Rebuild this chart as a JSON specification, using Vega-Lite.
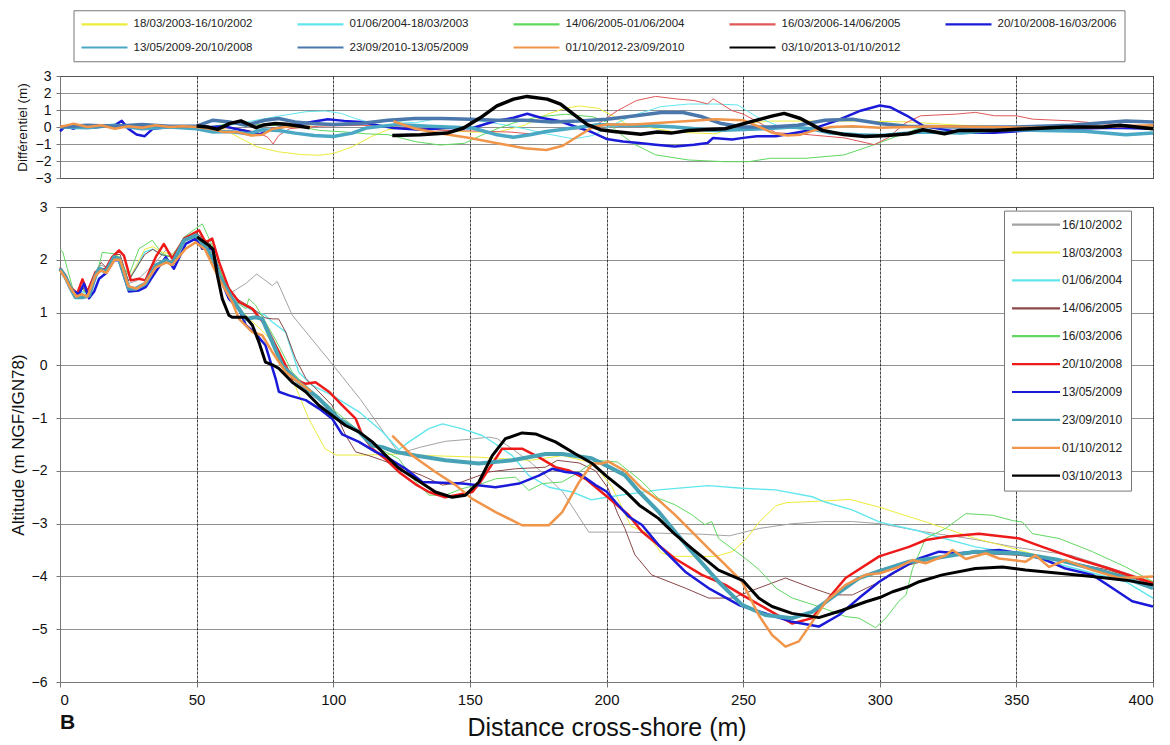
{
  "$schema": "https://vega.github.io/schema/vega-lite/v6.json",
  "background": "white",
  "padding": {"left": 8, "top": 9, "right": 6, "bottom": 0},
  "config": {
    "font": "Liberation Sans",
    "view": {"stroke": "#8c8c8c", "strokeWidth": 1},
    "axis": {"labelFont": "Liberation Sans", "titleFont": "Liberation Sans", "labelColor": "#111", "titleColor": "#111", "titleFontWeight": "normal", "domainColor": "#777", "tickColor": "#777", "gridColor": "#222", "gridOpacity": 1},
    "legend": {"labelFont": "Liberation Sans", "labelColor": "#222"},
    "title": {"font": "Liberation Sans"}
  },
  "datasets": {
    "diff": [
      {"s":"18/03/2003-16/10/2002","x":0,"y":0},{"s":"18/03/2003-16/10/2002","x":10,"y":0.05},{"s":"18/03/2003-16/10/2002","x":20,"y":-0.05},{"s":"18/03/2003-16/10/2002","x":30,"y":0.1},{"s":"18/03/2003-16/10/2002","x":40,"y":0},{"s":"18/03/2003-16/10/2002","x":50,"y":0.05},{"s":"18/03/2003-16/10/2002","x":58,"y":0},{"s":"18/03/2003-16/10/2002","x":62,"y":-0.3},{"s":"18/03/2003-16/10/2002","x":66,"y":-0.66},{"s":"18/03/2003-16/10/2002","x":72,"y":-1.16},{"s":"18/03/2003-16/10/2002","x":80,"y":-1.46},{"s":"18/03/2003-16/10/2002","x":88,"y":-1.62},{"s":"18/03/2003-16/10/2002","x":95,"y":-1.66},{"s":"18/03/2003-16/10/2002","x":100,"y":-1.56},{"s":"18/03/2003-16/10/2002","x":107,"y":-1.16},{"s":"18/03/2003-16/10/2002","x":114,"y":-0.56},{"s":"18/03/2003-16/10/2002","x":120,"y":-0.16},{"s":"18/03/2003-16/10/2002","x":125,"y":-0.05},{"s":"18/03/2003-16/10/2002","x":135,"y":-0.1},{"s":"18/03/2003-16/10/2002","x":150,"y":-0.3},{"s":"18/03/2003-16/10/2002","x":160,"y":-0.3},{"s":"18/03/2003-16/10/2002","x":170,"y":0.1},{"s":"18/03/2003-16/10/2002","x":178,"y":0.74},{"s":"18/03/2003-16/10/2002","x":185,"y":1.1},{"s":"18/03/2003-16/10/2002","x":190,"y":1.24},{"s":"18/03/2003-16/10/2002","x":197,"y":1.1},{"s":"18/03/2003-16/10/2002","x":203,"y":0.6},{"s":"18/03/2003-16/10/2002","x":208,"y":0.1},{"s":"18/03/2003-16/10/2002","x":215,"y":0},{"s":"18/03/2003-16/10/2002","x":225,"y":-0.3},{"s":"18/03/2003-16/10/2002","x":240,"y":-0.4},{"s":"18/03/2003-16/10/2002","x":250,"y":0.2},{"s":"18/03/2003-16/10/2002","x":260,"y":0.35},{"s":"18/03/2003-16/10/2002","x":270,"y":0.35},{"s":"18/03/2003-16/10/2002","x":290,"y":0.35},{"s":"18/03/2003-16/10/2002","x":310,"y":0.3},{"s":"18/03/2003-16/10/2002","x":330,"y":0.1},{"s":"18/03/2003-16/10/2002","x":350,"y":0},{"s":"18/03/2003-16/10/2002","x":370,"y":0.05},{"s":"18/03/2003-16/10/2002","x":400,"y":0},
      {"s":"01/06/2004-18/03/2003","x":0,"y":0},{"s":"01/06/2004-18/03/2003","x":20,"y":0.05},{"s":"01/06/2004-18/03/2003","x":40,"y":0},{"s":"01/06/2004-18/03/2003","x":55,"y":0},{"s":"01/06/2004-18/03/2003","x":62,"y":0.1},{"s":"01/06/2004-18/03/2003","x":70,"y":0.35},{"s":"01/06/2004-18/03/2003","x":80,"y":0.64},{"s":"01/06/2004-18/03/2003","x":90,"y":0.9},{"s":"01/06/2004-18/03/2003","x":97,"y":0.94},{"s":"01/06/2004-18/03/2003","x":103,"y":0.8},{"s":"01/06/2004-18/03/2003","x":108,"y":0.5},{"s":"01/06/2004-18/03/2003","x":114,"y":0.25},{"s":"01/06/2004-18/03/2003","x":120,"y":0.35},{"s":"01/06/2004-18/03/2003","x":130,"y":0.25},{"s":"01/06/2004-18/03/2003","x":140,"y":0.55},{"s":"01/06/2004-18/03/2003","x":150,"y":0.45},{"s":"01/06/2004-18/03/2003","x":160,"y":0.2},{"s":"01/06/2004-18/03/2003","x":170,"y":-0.1},{"s":"01/06/2004-18/03/2003","x":178,"y":-0.4},{"s":"01/06/2004-18/03/2003","x":188,"y":-0.7},{"s":"01/06/2004-18/03/2003","x":195,"y":-0.5},{"s":"01/06/2004-18/03/2003","x":202,"y":0.1},{"s":"01/06/2004-18/03/2003","x":210,"y":0.7},{"s":"01/06/2004-18/03/2003","x":220,"y":1.2},{"s":"01/06/2004-18/03/2003","x":230,"y":1.35},{"s":"01/06/2004-18/03/2003","x":240,"y":1.35},{"s":"01/06/2004-18/03/2003","x":248,"y":1.3},{"s":"01/06/2004-18/03/2003","x":255,"y":0.6},{"s":"01/06/2004-18/03/2003","x":263,"y":0.05},{"s":"01/06/2004-18/03/2003","x":275,"y":-0.1},{"s":"01/06/2004-18/03/2003","x":290,"y":0},{"s":"01/06/2004-18/03/2003","x":320,"y":-0.05},{"s":"01/06/2004-18/03/2003","x":350,"y":0},{"s":"01/06/2004-18/03/2003","x":380,"y":0},{"s":"01/06/2004-18/03/2003","x":400,"y":-0.1},
      {"s":"14/06/2005-01/06/2004","x":0,"y":0},{"s":"14/06/2005-01/06/2004","x":20,"y":0.05},{"s":"14/06/2005-01/06/2004","x":40,"y":-0.05},{"s":"14/06/2005-01/06/2004","x":55,"y":0},{"s":"14/06/2005-01/06/2004","x":65,"y":0.3},{"s":"14/06/2005-01/06/2004","x":75,"y":0.1},{"s":"14/06/2005-01/06/2004","x":85,"y":0.1},{"s":"14/06/2005-01/06/2004","x":95,"y":-0.2},{"s":"14/06/2005-01/06/2004","x":105,"y":-0.3},{"s":"14/06/2005-01/06/2004","x":112,"y":-0.4},{"s":"14/06/2005-01/06/2004","x":120,"y":-0.45},{"s":"14/06/2005-01/06/2004","x":130,"y":-0.86},{"s":"14/06/2005-01/06/2004","x":139,"y":-1.06},{"s":"14/06/2005-01/06/2004","x":148,"y":-0.96},{"s":"14/06/2005-01/06/2004","x":154,"y":-0.5},{"s":"14/06/2005-01/06/2004","x":160,"y":-0.1},{"s":"14/06/2005-01/06/2004","x":166,"y":0.24},{"s":"14/06/2005-01/06/2004","x":175,"y":0.6},{"s":"14/06/2005-01/06/2004","x":185,"y":0.75},{"s":"14/06/2005-01/06/2004","x":195,"y":0.6},{"s":"14/06/2005-01/06/2004","x":200,"y":0.3},{"s":"14/06/2005-01/06/2004","x":205,"y":-0.4},{"s":"14/06/2005-01/06/2004","x":210,"y":-1.0},{"s":"14/06/2005-01/06/2004","x":218,"y":-1.64},{"s":"14/06/2005-01/06/2004","x":230,"y":-1.94},{"s":"14/06/2005-01/06/2004","x":243,"y":-2.04},{"s":"14/06/2005-01/06/2004","x":252,"y":-2.04},{"s":"14/06/2005-01/06/2004","x":260,"y":-1.84},{"s":"14/06/2005-01/06/2004","x":273,"y":-1.84},{"s":"14/06/2005-01/06/2004","x":287,"y":-1.64},{"s":"14/06/2005-01/06/2004","x":298,"y":-1.04},{"s":"14/06/2005-01/06/2004","x":308,"y":-0.44},{"s":"14/06/2005-01/06/2004","x":315,"y":-0.04},{"s":"14/06/2005-01/06/2004","x":330,"y":0},{"s":"14/06/2005-01/06/2004","x":360,"y":0.05},{"s":"14/06/2005-01/06/2004","x":400,"y":0},
      {"s":"16/03/2006-14/06/2005","x":0,"y":0},{"s":"16/03/2006-14/06/2005","x":20,"y":0},{"s":"16/03/2006-14/06/2005","x":40,"y":0.05},{"s":"16/03/2006-14/06/2005","x":55,"y":0},{"s":"16/03/2006-14/06/2005","x":65,"y":-0.1},{"s":"16/03/2006-14/06/2005","x":72,"y":-0.3},{"s":"16/03/2006-14/06/2005","x":76,"y":-0.6},{"s":"16/03/2006-14/06/2005","x":78,"y":-1.0},{"s":"16/03/2006-14/06/2005","x":80,"y":-0.5},{"s":"16/03/2006-14/06/2005","x":84,"y":-0.1},{"s":"16/03/2006-14/06/2005","x":95,"y":0.05},{"s":"16/03/2006-14/06/2005","x":110,"y":0.1},{"s":"16/03/2006-14/06/2005","x":125,"y":0},{"s":"16/03/2006-14/06/2005","x":140,"y":-0.2},{"s":"16/03/2006-14/06/2005","x":155,"y":-0.25},{"s":"16/03/2006-14/06/2005","x":165,"y":-0.3},{"s":"16/03/2006-14/06/2005","x":172,"y":-0.4},{"s":"16/03/2006-14/06/2005","x":180,"y":-0.2},{"s":"16/03/2006-14/06/2005","x":190,"y":-0.1},{"s":"16/03/2006-14/06/2005","x":197,"y":0.2},{"s":"16/03/2006-14/06/2005","x":204,"y":0.96},{"s":"16/03/2006-14/06/2005","x":211,"y":1.56},{"s":"16/03/2006-14/06/2005","x":218,"y":1.8},{"s":"16/03/2006-14/06/2005","x":225,"y":1.66},{"s":"16/03/2006-14/06/2005","x":232,"y":1.56},{"s":"16/03/2006-14/06/2005","x":237,"y":1.36},{"s":"16/03/2006-14/06/2005","x":239,"y":1.66},{"s":"16/03/2006-14/06/2005","x":246,"y":0.96},{"s":"16/03/2006-14/06/2005","x":250,"y":0.76},{"s":"16/03/2006-14/06/2005","x":257,"y":0.16},{"s":"16/03/2006-14/06/2005","x":262,"y":-0.34},{"s":"16/03/2006-14/06/2005","x":273,"y":-0.44},{"s":"16/03/2006-14/06/2005","x":287,"y":-0.64},{"s":"16/03/2006-14/06/2005","x":298,"y":-1.04},{"s":"16/03/2006-14/06/2005","x":303,"y":-0.64},{"s":"16/03/2006-14/06/2005","x":309,"y":0.2},{"s":"16/03/2006-14/06/2005","x":315,"y":0.66},{"s":"16/03/2006-14/06/2005","x":328,"y":0.76},{"s":"16/03/2006-14/06/2005","x":335,"y":0.86},{"s":"16/03/2006-14/06/2005","x":342,"y":0.66},{"s":"16/03/2006-14/06/2005","x":350,"y":0.66},{"s":"16/03/2006-14/06/2005","x":356,"y":0.46},{"s":"16/03/2006-14/06/2005","x":370,"y":0.36},{"s":"16/03/2006-14/06/2005","x":384,"y":0.16},{"s":"16/03/2006-14/06/2005","x":400,"y":0.06},
      {"s":"20/10/2008-16/03/2006","x":0,"y":-0.25},{"s":"20/10/2008-16/03/2006","x":2,"y":0.05},{"s":"20/10/2008-16/03/2006","x":5,"y":-0.1},{"s":"20/10/2008-16/03/2006","x":8,"y":0.1},{"s":"20/10/2008-16/03/2006","x":12,"y":-0.05},{"s":"20/10/2008-16/03/2006","x":16,"y":0.05},{"s":"20/10/2008-16/03/2006","x":20,"y":0.1},{"s":"20/10/2008-16/03/2006","x":22.6,"y":0.36},{"s":"20/10/2008-16/03/2006","x":25,"y":-0.1},{"s":"20/10/2008-16/03/2006","x":28,"y":-0.44},{"s":"20/10/2008-16/03/2006","x":31,"y":-0.54},{"s":"20/10/2008-16/03/2006","x":34,"y":-0.1},{"s":"20/10/2008-16/03/2006","x":40,"y":0},{"s":"20/10/2008-16/03/2006","x":45,"y":0.05},{"s":"20/10/2008-16/03/2006","x":50,"y":0},{"s":"20/10/2008-16/03/2006","x":55,"y":0},{"s":"20/10/2008-16/03/2006","x":60,"y":0.05},{"s":"20/10/2008-16/03/2006","x":64,"y":-0.1},{"s":"20/10/2008-16/03/2006","x":68,"y":-0.24},{"s":"20/10/2008-16/03/2006","x":73,"y":-0.44},{"s":"20/10/2008-16/03/2006","x":78,"y":-0.1},{"s":"20/10/2008-16/03/2006","x":85,"y":0.1},{"s":"20/10/2008-16/03/2006","x":92,"y":0.3},{"s":"20/10/2008-16/03/2006","x":98,"y":0.46},{"s":"20/10/2008-16/03/2006","x":104,"y":0.36},{"s":"20/10/2008-16/03/2006","x":110,"y":0.3},{"s":"20/10/2008-16/03/2006","x":115,"y":0.14},{"s":"20/10/2008-16/03/2006","x":122,"y":-0.06},{"s":"20/10/2008-16/03/2006","x":132,"y":-0.16},{"s":"20/10/2008-16/03/2006","x":141,"y":-0.06},{"s":"20/10/2008-16/03/2006","x":151,"y":-0.06},{"s":"20/10/2008-16/03/2006","x":159,"y":0.34},{"s":"20/10/2008-16/03/2006","x":166,"y":0.54},{"s":"20/10/2008-16/03/2006","x":171,"y":0.78},{"s":"20/10/2008-16/03/2006","x":176,"y":0.54},{"s":"20/10/2008-16/03/2006","x":183,"y":0.34},{"s":"20/10/2008-16/03/2006","x":190,"y":-0.06},{"s":"20/10/2008-16/03/2006","x":194,"y":-0.26},{"s":"20/10/2008-16/03/2006","x":200,"y":-0.7},{"s":"20/10/2008-16/03/2006","x":206,"y":-0.85},{"s":"20/10/2008-16/03/2006","x":212,"y":-0.94},{"s":"20/10/2008-16/03/2006","x":218,"y":-1.04},{"s":"20/10/2008-16/03/2006","x":225,"y":-1.14},{"s":"20/10/2008-16/03/2006","x":232,"y":-1.04},{"s":"20/10/2008-16/03/2006","x":237,"y":-0.94},{"s":"20/10/2008-16/03/2006","x":239,"y":-0.64},{"s":"20/10/2008-16/03/2006","x":246,"y":-0.74},{"s":"20/10/2008-16/03/2006","x":250,"y":-0.64},{"s":"20/10/2008-16/03/2006","x":255,"y":-0.54},{"s":"20/10/2008-16/03/2006","x":262,"y":-0.54},{"s":"20/10/2008-16/03/2006","x":273,"y":-0.24},{"s":"20/10/2008-16/03/2006","x":284,"y":0.36},{"s":"20/10/2008-16/03/2006","x":293,"y":0.96},{"s":"20/10/2008-16/03/2006","x":300,"y":1.26},{"s":"20/10/2008-16/03/2006","x":304,"y":1.16},{"s":"20/10/2008-16/03/2006","x":310,"y":0.66},{"s":"20/10/2008-16/03/2006","x":316,"y":0.06},{"s":"20/10/2008-16/03/2006","x":323,"y":-0.14},{"s":"20/10/2008-16/03/2006","x":331,"y":-0.34},{"s":"20/10/2008-16/03/2006","x":342,"y":-0.34},{"s":"20/10/2008-16/03/2006","x":351,"y":-0.24},{"s":"20/10/2008-16/03/2006","x":360,"y":-0.14},{"s":"20/10/2008-16/03/2006","x":370,"y":-0.1},{"s":"20/10/2008-16/03/2006","x":385,"y":-0.05},{"s":"20/10/2008-16/03/2006","x":400,"y":-0.1},
      {"s":"13/05/2009-20/10/2008","x":0,"y":0},{"s":"13/05/2009-20/10/2008","x":10,"y":-0.05},{"s":"13/05/2009-20/10/2008","x":20,"y":0.1},{"s":"13/05/2009-20/10/2008","x":30,"y":-0.1},{"s":"13/05/2009-20/10/2008","x":40,"y":0},{"s":"13/05/2009-20/10/2008","x":50,"y":-0.1},{"s":"13/05/2009-20/10/2008","x":56,"y":-0.3},{"s":"13/05/2009-20/10/2008","x":62,"y":-0.26},{"s":"13/05/2009-20/10/2008","x":69,"y":-0.4},{"s":"13/05/2009-20/10/2008","x":74,"y":-0.16},{"s":"13/05/2009-20/10/2008","x":80,"y":-0.2},{"s":"13/05/2009-20/10/2008","x":86,"y":-0.36},{"s":"13/05/2009-20/10/2008","x":93,"y":-0.5},{"s":"13/05/2009-20/10/2008","x":100,"y":-0.56},{"s":"13/05/2009-20/10/2008","x":107,"y":-0.36},{"s":"13/05/2009-20/10/2008","x":112,"y":-0.06},{"s":"13/05/2009-20/10/2008","x":123,"y":0.14},{"s":"13/05/2009-20/10/2008","x":135,"y":0.04},{"s":"13/05/2009-20/10/2008","x":151,"y":-0.06},{"s":"13/05/2009-20/10/2008","x":160,"y":-0.46},{"s":"13/05/2009-20/10/2008","x":166,"y":-0.6},{"s":"13/05/2009-20/10/2008","x":172,"y":-0.46},{"s":"13/05/2009-20/10/2008","x":178,"y":-0.26},{"s":"13/05/2009-20/10/2008","x":188,"y":-0.06},{"s":"13/05/2009-20/10/2008","x":197,"y":0.14},{"s":"13/05/2009-20/10/2008","x":205,"y":0.1},{"s":"13/05/2009-20/10/2008","x":213,"y":0.1},{"s":"13/05/2009-20/10/2008","x":225,"y":0},{"s":"13/05/2009-20/10/2008","x":240,"y":-0.2},{"s":"13/05/2009-20/10/2008","x":258,"y":-0.1},{"s":"13/05/2009-20/10/2008","x":268,"y":0},{"s":"13/05/2009-20/10/2008","x":275,"y":-0.1},{"s":"13/05/2009-20/10/2008","x":282,"y":-0.35},{"s":"13/05/2009-20/10/2008","x":292,"y":-0.45},{"s":"13/05/2009-20/10/2008","x":300,"y":-0.5},{"s":"13/05/2009-20/10/2008","x":315,"y":-0.3},{"s":"13/05/2009-20/10/2008","x":330,"y":-0.35},{"s":"13/05/2009-20/10/2008","x":345,"y":-0.15},{"s":"13/05/2009-20/10/2008","x":360,"y":-0.2},{"s":"13/05/2009-20/10/2008","x":375,"y":-0.25},{"s":"13/05/2009-20/10/2008","x":390,"y":-0.45},{"s":"13/05/2009-20/10/2008","x":400,"y":-0.35},
      {"s":"23/09/2010-13/05/2009","x":0,"y":0},{"s":"23/09/2010-13/05/2009","x":10,"y":0.1},{"s":"23/09/2010-13/05/2009","x":20,"y":0.05},{"s":"23/09/2010-13/05/2009","x":30,"y":0.15},{"s":"23/09/2010-13/05/2009","x":40,"y":0.05},{"s":"23/09/2010-13/05/2009","x":50,"y":0.05},{"s":"23/09/2010-13/05/2009","x":56,"y":0.4},{"s":"23/09/2010-13/05/2009","x":62,"y":0.3},{"s":"23/09/2010-13/05/2009","x":68,"y":0.1},{"s":"23/09/2010-13/05/2009","x":75,"y":0.4},{"s":"23/09/2010-13/05/2009","x":80,"y":0.5},{"s":"23/09/2010-13/05/2009","x":86,"y":0.3},{"s":"23/09/2010-13/05/2009","x":92,"y":0.2},{"s":"23/09/2010-13/05/2009","x":100,"y":0.15},{"s":"23/09/2010-13/05/2009","x":110,"y":0.2},{"s":"23/09/2010-13/05/2009","x":120,"y":0.4},{"s":"23/09/2010-13/05/2009","x":130,"y":0.5},{"s":"23/09/2010-13/05/2009","x":140,"y":0.5},{"s":"23/09/2010-13/05/2009","x":150,"y":0.45},{"s":"23/09/2010-13/05/2009","x":160,"y":0.4},{"s":"23/09/2010-13/05/2009","x":170,"y":0.4},{"s":"23/09/2010-13/05/2009","x":180,"y":0.3},{"s":"23/09/2010-13/05/2009","x":190,"y":0.35},{"s":"23/09/2010-13/05/2009","x":200,"y":0.45},{"s":"23/09/2010-13/05/2009","x":210,"y":0.65},{"s":"23/09/2010-13/05/2009","x":220,"y":0.85},{"s":"23/09/2010-13/05/2009","x":228,"y":0.85},{"s":"23/09/2010-13/05/2009","x":235,"y":0.6},{"s":"23/09/2010-13/05/2009","x":242,"y":0.2},{"s":"23/09/2010-13/05/2009","x":250,"y":0},{"s":"23/09/2010-13/05/2009","x":260,"y":0},{"s":"23/09/2010-13/05/2009","x":270,"y":0.1},{"s":"23/09/2010-13/05/2009","x":280,"y":0.4},{"s":"23/09/2010-13/05/2009","x":290,"y":0.45},{"s":"23/09/2010-13/05/2009","x":300,"y":0.2},{"s":"23/09/2010-13/05/2009","x":310,"y":0.05},{"s":"23/09/2010-13/05/2009","x":330,"y":0},{"s":"23/09/2010-13/05/2009","x":350,"y":0},{"s":"23/09/2010-13/05/2009","x":370,"y":0.1},{"s":"23/09/2010-13/05/2009","x":390,"y":0.35},{"s":"23/09/2010-13/05/2009","x":400,"y":0.3},
      {"s":"01/10/2012-23/09/2010","g":1,"x":0,"y":0},{"s":"01/10/2012-23/09/2010","g":1,"x":5,"y":0.2},{"s":"01/10/2012-23/09/2010","g":1,"x":10,"y":0},{"s":"01/10/2012-23/09/2010","g":1,"x":15,"y":0.1},{"s":"01/10/2012-23/09/2010","g":1,"x":20,"y":-0.1},{"s":"01/10/2012-23/09/2010","g":1,"x":25,"y":0.05},{"s":"01/10/2012-23/09/2010","g":1,"x":30,"y":-0.05},{"s":"01/10/2012-23/09/2010","g":1,"x":35,"y":0.1},{"s":"01/10/2012-23/09/2010","g":1,"x":40,"y":0},{"s":"01/10/2012-23/09/2010","g":1,"x":45,"y":0.05},{"s":"01/10/2012-23/09/2010","g":1,"x":50,"y":0},{"s":"01/10/2012-23/09/2010","g":1,"x":55,"y":-0.1},{"s":"01/10/2012-23/09/2010","g":1,"x":60,"y":-0.3},{"s":"01/10/2012-23/09/2010","g":1,"x":65,"y":-0.3},{"s":"01/10/2012-23/09/2010","g":1,"x":70,"y":-0.5},{"s":"01/10/2012-23/09/2010","g":1,"x":74,"y":-0.45},{"s":"01/10/2012-23/09/2010","g":1,"x":78,"y":-0.1},{"s":"01/10/2012-23/09/2010","g":1,"x":84,"y":0.05},{"s":"01/10/2012-23/09/2010","g":1,"x":92,"y":0},
      {"s":"01/10/2012-23/09/2010","g":2,"x":122,"y":0.34},{"s":"01/10/2012-23/09/2010","g":2,"x":130,"y":-0.1},{"s":"01/10/2012-23/09/2010","g":2,"x":140,"y":-0.4},{"s":"01/10/2012-23/09/2010","g":2,"x":150,"y":-0.65},{"s":"01/10/2012-23/09/2010","g":2,"x":160,"y":-0.95},{"s":"01/10/2012-23/09/2010","g":2,"x":170,"y":-1.25},{"s":"01/10/2012-23/09/2010","g":2,"x":178,"y":-1.35},{"s":"01/10/2012-23/09/2010","g":2,"x":184,"y":-1.1},{"s":"01/10/2012-23/09/2010","g":2,"x":190,"y":-0.5},{"s":"01/10/2012-23/09/2010","g":2,"x":195,"y":0},{"s":"01/10/2012-23/09/2010","g":2,"x":200,"y":0.15},{"s":"01/10/2012-23/09/2010","g":2,"x":210,"y":0.15},{"s":"01/10/2012-23/09/2010","g":2,"x":220,"y":0.25},{"s":"01/10/2012-23/09/2010","g":2,"x":230,"y":0.35},{"s":"01/10/2012-23/09/2010","g":2,"x":240,"y":0.45},{"s":"01/10/2012-23/09/2010","g":2,"x":250,"y":0.4},{"s":"01/10/2012-23/09/2010","g":2,"x":256,"y":0},{"s":"01/10/2012-23/09/2010","g":2,"x":261,"y":-0.36},{"s":"01/10/2012-23/09/2010","g":2,"x":266,"y":-0.5},{"s":"01/10/2012-23/09/2010","g":2,"x":271,"y":-0.45},{"s":"01/10/2012-23/09/2010","g":2,"x":276,"y":-0.2},{"s":"01/10/2012-23/09/2010","g":2,"x":282,"y":0},{"s":"01/10/2012-23/09/2010","g":2,"x":290,"y":0.05},{"s":"01/10/2012-23/09/2010","g":2,"x":300,"y":-0.05},{"s":"01/10/2012-23/09/2010","g":2,"x":320,"y":0.05},{"s":"01/10/2012-23/09/2010","g":2,"x":340,"y":0},{"s":"01/10/2012-23/09/2010","g":2,"x":360,"y":-0.05},{"s":"01/10/2012-23/09/2010","g":2,"x":380,"y":0},{"s":"01/10/2012-23/09/2010","g":2,"x":400,"y":0.1},
      {"s":"03/10/2013-01/10/2012","g":1,"x":50,"y":0.06},{"s":"03/10/2013-01/10/2012","g":1,"x":54,"y":0},{"s":"03/10/2013-01/10/2012","g":1,"x":57.7,"y":-0.14},{"s":"03/10/2013-01/10/2012","g":1,"x":62,"y":0.2},{"s":"03/10/2013-01/10/2012","g":1,"x":66.2,"y":0.36},{"s":"03/10/2013-01/10/2012","g":1,"x":69,"y":0.16},{"s":"03/10/2013-01/10/2012","g":1,"x":71.8,"y":-0.04},{"s":"03/10/2013-01/10/2012","g":1,"x":74.6,"y":0.12},{"s":"03/10/2013-01/10/2012","g":1,"x":78.8,"y":0.2},{"s":"03/10/2013-01/10/2012","g":1,"x":83,"y":0.16},{"s":"03/10/2013-01/10/2012","g":1,"x":87.2,"y":0.06},{"s":"03/10/2013-01/10/2012","g":1,"x":91.4,"y":-0.04},
      {"s":"03/10/2013-01/10/2012","g":2,"x":121.6,"y":-0.5},{"s":"03/10/2013-01/10/2012","g":2,"x":131.8,"y":-0.46},{"s":"03/10/2013-01/10/2012","g":2,"x":141.6,"y":-0.36},{"s":"03/10/2013-01/10/2012","g":2,"x":147.7,"y":-0.06},{"s":"03/10/2013-01/10/2012","g":2,"x":153.8,"y":0.54},{"s":"03/10/2013-01/10/2012","g":2,"x":159.9,"y":1.24},{"s":"03/10/2013-01/10/2012","g":2,"x":166,"y":1.64},{"s":"03/10/2013-01/10/2012","g":2,"x":170.9,"y":1.8},{"s":"03/10/2013-01/10/2012","g":2,"x":178.3,"y":1.64},{"s":"03/10/2013-01/10/2012","g":2,"x":183.2,"y":1.34},{"s":"03/10/2013-01/10/2012","g":2,"x":188,"y":0.74},{"s":"03/10/2013-01/10/2012","g":2,"x":193,"y":0.14},{"s":"03/10/2013-01/10/2012","g":2,"x":197.8,"y":-0.16},{"s":"03/10/2013-01/10/2012","g":2,"x":202.7,"y":-0.26},{"s":"03/10/2013-01/10/2012","g":2,"x":212.5,"y":-0.42},{"s":"03/10/2013-01/10/2012","g":2,"x":218.6,"y":-0.3},{"s":"03/10/2013-01/10/2012","g":2,"x":223.7,"y":-0.36},{"s":"03/10/2013-01/10/2012","g":2,"x":230,"y":-0.2},{"s":"03/10/2013-01/10/2012","g":2,"x":243.4,"y":-0.1},{"s":"03/10/2013-01/10/2012","g":2,"x":252.6,"y":0.3},{"s":"03/10/2013-01/10/2012","g":2,"x":260.5,"y":0.64},{"s":"03/10/2013-01/10/2012","g":2,"x":265,"y":0.8},{"s":"03/10/2013-01/10/2012","g":2,"x":271,"y":0.5},{"s":"03/10/2013-01/10/2012","g":2,"x":279,"y":-0.2},{"s":"03/10/2013-01/10/2012","g":2,"x":286.8,"y":-0.44},{"s":"03/10/2013-01/10/2012","g":2,"x":294.7,"y":-0.56},{"s":"03/10/2013-01/10/2012","g":2,"x":302.6,"y":-0.5},{"s":"03/10/2013-01/10/2012","g":2,"x":310.5,"y":-0.4},{"s":"03/10/2013-01/10/2012","g":2,"x":315.8,"y":-0.16},{"s":"03/10/2013-01/10/2012","g":2,"x":323.7,"y":-0.4},{"s":"03/10/2013-01/10/2012","g":2,"x":329,"y":-0.2},{"s":"03/10/2013-01/10/2012","g":2,"x":342,"y":-0.2},{"s":"03/10/2013-01/10/2012","g":2,"x":355,"y":-0.1},{"s":"03/10/2013-01/10/2012","g":2,"x":368,"y":0},{"s":"03/10/2013-01/10/2012","g":2,"x":381.6,"y":0},{"s":"03/10/2013-01/10/2012","g":2,"x":388,"y":0.1},{"s":"03/10/2013-01/10/2012","g":2,"x":400,"y":-0.1}
    ],
    "prof": [
      {"s":"16/10/2002","x":0,"y":1.85},{"s":"16/10/2002","x":2,"y":1.7},{"s":"16/10/2002","x":4,"y":1.45},{"s":"16/10/2002","x":6,"y":1.35},{"s":"16/10/2002","x":8,"y":1.45},{"s":"16/10/2002","x":10,"y":1.35},{"s":"16/10/2002","x":13,"y":1.75},{"s":"16/10/2002","x":15,"y":1.9},{"s":"16/10/2002","x":17,"y":1.85},{"s":"16/10/2002","x":20,"y":2.05},{"s":"16/10/2002","x":22,"y":2.05},{"s":"16/10/2002","x":25,"y":1.55},{"s":"16/10/2002","x":28,"y":1.6},{"s":"16/10/2002","x":31,"y":1.75},{"s":"16/10/2002","x":35,"y":1.95},{"s":"16/10/2002","x":39,"y":2.2},{"s":"16/10/2002","x":41,"y":2.1},{"s":"16/10/2002","x":45,"y":2.35},{"s":"16/10/2002","x":50,"y":2.45},{"s":"16/10/2002","x":55,"y":2.2},{"s":"16/10/2002","x":60,"y":1.6},{"s":"16/10/2002","x":63,"y":1.39},{"s":"16/10/2002","x":68,"y":1.55},{"s":"16/10/2002","x":72,"y":1.73},{"s":"16/10/2002","x":77.7,"y":1.51},{"s":"16/10/2002","x":79.5,"y":1.59},{"s":"16/10/2002","x":85,"y":0.95},{"s":"16/10/2002","x":100,"y":0},{"s":"16/10/2002","x":110,"y":-0.65},{"s":"16/10/2002","x":124,"y":-1.67},{"s":"16/10/2002","x":132,"y":-1.55},{"s":"16/10/2002","x":141,"y":-1.44},{"s":"16/10/2002","x":150,"y":-1.4},{"s":"16/10/2002","x":157,"y":-1.36},{"s":"16/10/2002","x":160,"y":-1.39},{"s":"16/10/2002","x":166,"y":-1.6},{"s":"16/10/2002","x":172,"y":-1.83},{"s":"16/10/2002","x":178,"y":-2.1},{"s":"16/10/2002","x":184,"y":-2.4},{"s":"16/10/2002","x":189,"y":-2.8},{"s":"16/10/2002","x":193.5,"y":-3.16},{"s":"16/10/2002","x":208,"y":-3.16},{"s":"16/10/2002","x":219,"y":-3.18},{"s":"16/10/2002","x":235,"y":-3.2},{"s":"16/10/2002","x":245,"y":-3.23},{"s":"16/10/2002","x":256,"y":-3.09},{"s":"16/10/2002","x":268,"y":-3.0},{"s":"16/10/2002","x":280,"y":-2.96},{"s":"16/10/2002","x":290,"y":-2.96},{"s":"16/10/2002","x":300,"y":-3.0},{"s":"16/10/2002","x":317,"y":-3.16},{"s":"16/10/2002","x":335,"y":-3.3},{"s":"16/10/2002","x":350,"y":-3.45},{"s":"16/10/2002","x":370,"y":-3.6},{"s":"16/10/2002","x":385,"y":-3.85},{"s":"16/10/2002","x":400,"y":-4.1},
      {"s":"18/03/2003","x":0,"y":1.85},{"s":"18/03/2003","x":2,"y":1.65},{"s":"18/03/2003","x":4,"y":1.45},{"s":"18/03/2003","x":6,"y":1.3},{"s":"18/03/2003","x":8,"y":1.45},{"s":"18/03/2003","x":10,"y":1.35},{"s":"18/03/2003","x":13,"y":1.7},{"s":"18/03/2003","x":15,"y":1.85},{"s":"18/03/2003","x":17,"y":1.8},{"s":"18/03/2003","x":20,"y":2.1},{"s":"18/03/2003","x":22,"y":2.05},{"s":"18/03/2003","x":25,"y":1.6},{"s":"18/03/2003","x":28,"y":1.9},{"s":"18/03/2003","x":31,"y":2.2},{"s":"18/03/2003","x":34,"y":2.25},{"s":"18/03/2003","x":37,"y":2.15},{"s":"18/03/2003","x":41,"y":2.1},{"s":"18/03/2003","x":45,"y":2.3},{"s":"18/03/2003","x":50,"y":2.4},{"s":"18/03/2003","x":55,"y":2.2},{"s":"18/03/2003","x":60,"y":1.5},{"s":"18/03/2003","x":65,"y":1.1},{"s":"18/03/2003","x":70,"y":0.85},{"s":"18/03/2003","x":75,"y":0.6},{"s":"18/03/2003","x":80,"y":0.3},{"s":"18/03/2003","x":85,"y":-0.25},{"s":"18/03/2003","x":91,"y":-1.01},{"s":"18/03/2003","x":97,"y":-1.58},{"s":"18/03/2003","x":101,"y":-1.7},{"s":"18/03/2003","x":112,"y":-1.7},{"s":"18/03/2003","x":123,"y":-1.68},{"s":"18/03/2003","x":135,"y":-1.71},{"s":"18/03/2003","x":153,"y":-1.74},{"s":"18/03/2003","x":172,"y":-1.8},{"s":"18/03/2003","x":184,"y":-1.71},{"s":"18/03/2003","x":195,"y":-1.85},{"s":"18/03/2003","x":202,"y":-2.3},{"s":"18/03/2003","x":209,"y":-3.05},{"s":"18/03/2003","x":214,"y":-3.15},{"s":"18/03/2003","x":220,"y":-3.55},{"s":"18/03/2003","x":224,"y":-3.62},{"s":"18/03/2003","x":240,"y":-3.62},{"s":"18/03/2003","x":246,"y":-3.53},{"s":"18/03/2003","x":251,"y":-3.3},{"s":"18/03/2003","x":256,"y":-2.96},{"s":"18/03/2003","x":262,"y":-2.66},{"s":"18/03/2003","x":266,"y":-2.6},{"s":"18/03/2003","x":280,"y":-2.57},{"s":"18/03/2003","x":289,"y":-2.54},{"s":"18/03/2003","x":300,"y":-2.69},{"s":"18/03/2003","x":317,"y":-2.97},{"s":"18/03/2003","x":335,"y":-3.28},{"s":"18/03/2003","x":351,"y":-3.5},{"s":"18/03/2003","x":366,"y":-3.72},{"s":"18/03/2003","x":384,"y":-3.91},{"s":"18/03/2003","x":400,"y":-4.1},
      {"s":"01/06/2004","x":0,"y":1.8},{"s":"01/06/2004","x":2,"y":1.65},{"s":"01/06/2004","x":4,"y":1.45},{"s":"01/06/2004","x":6,"y":1.3},{"s":"01/06/2004","x":8,"y":1.4},{"s":"01/06/2004","x":10,"y":1.35},{"s":"01/06/2004","x":13,"y":1.7},{"s":"01/06/2004","x":15,"y":1.85},{"s":"01/06/2004","x":17,"y":1.8},{"s":"01/06/2004","x":20,"y":2.05},{"s":"01/06/2004","x":22,"y":2.05},{"s":"01/06/2004","x":25,"y":1.6},{"s":"01/06/2004","x":28,"y":1.85},{"s":"01/06/2004","x":31,"y":2.15},{"s":"01/06/2004","x":34,"y":2.2},{"s":"01/06/2004","x":37,"y":2.1},{"s":"01/06/2004","x":41,"y":2.05},{"s":"01/06/2004","x":45,"y":2.35},{"s":"01/06/2004","x":50,"y":2.45},{"s":"01/06/2004","x":55,"y":2.25},{"s":"01/06/2004","x":60,"y":1.6},{"s":"01/06/2004","x":65,"y":1.2},{"s":"01/06/2004","x":70,"y":1.05},{"s":"01/06/2004","x":75,"y":0.95},{"s":"01/06/2004","x":77.7,"y":0.82},{"s":"01/06/2004","x":82.6,"y":0.63},{"s":"01/06/2004","x":84,"y":0.4},{"s":"01/06/2004","x":87.4,"y":-0.13},{"s":"01/06/2004","x":92.3,"y":-0.38},{"s":"01/06/2004","x":99.6,"y":-0.57},{"s":"01/06/2004","x":109.4,"y":-0.88},{"s":"01/06/2004","x":118,"y":-1.26},{"s":"01/06/2004","x":124,"y":-1.6},{"s":"01/06/2004","x":127.7,"y":-1.45},{"s":"01/06/2004","x":135,"y":-1.2},{"s":"01/06/2004","x":140,"y":-1.11},{"s":"01/06/2004","x":147,"y":-1.2},{"s":"01/06/2004","x":154.5,"y":-1.33},{"s":"01/06/2004","x":159.4,"y":-1.49},{"s":"01/06/2004","x":165.5,"y":-1.71},{"s":"01/06/2004","x":171.6,"y":-2.09},{"s":"01/06/2004","x":179,"y":-2.31},{"s":"01/06/2004","x":187.4,"y":-2.4},{"s":"01/06/2004","x":194.5,"y":-2.55},{"s":"01/06/2004","x":200,"y":-2.5},{"s":"01/06/2004","x":206.7,"y":-2.45},{"s":"01/06/2004","x":219,"y":-2.36},{"s":"01/06/2004","x":237.3,"y":-2.28},{"s":"01/06/2004","x":249.6,"y":-2.33},{"s":"01/06/2004","x":261.8,"y":-2.36},{"s":"01/06/2004","x":275.3,"y":-2.49},{"s":"01/06/2004","x":280,"y":-2.59},{"s":"01/06/2004","x":289.9,"y":-2.74},{"s":"01/06/2004","x":300,"y":-2.97},{"s":"01/06/2004","x":314.4,"y":-3.14},{"s":"01/06/2004","x":319.3,"y":-3.22},{"s":"01/06/2004","x":335,"y":-3.44},{"s":"01/06/2004","x":353.4,"y":-3.6},{"s":"01/06/2004","x":371.6,"y":-3.85},{"s":"01/06/2004","x":390,"y":-4.1},{"s":"01/06/2004","x":400,"y":-4.41},
      {"s":"14/06/2005","x":0,"y":1.85},{"s":"14/06/2005","x":2,"y":1.7},{"s":"14/06/2005","x":4,"y":1.5},{"s":"14/06/2005","x":6,"y":1.35},{"s":"14/06/2005","x":8,"y":1.5},{"s":"14/06/2005","x":10,"y":1.35},{"s":"14/06/2005","x":13,"y":1.75},{"s":"14/06/2005","x":15,"y":1.95},{"s":"14/06/2005","x":17,"y":1.85},{"s":"14/06/2005","x":20,"y":2.1},{"s":"14/06/2005","x":22,"y":2.1},{"s":"14/06/2005","x":25,"y":1.6},{"s":"14/06/2005","x":28,"y":1.85},{"s":"14/06/2005","x":31,"y":2.1},{"s":"14/06/2005","x":34,"y":2.2},{"s":"14/06/2005","x":37,"y":2.1},{"s":"14/06/2005","x":41,"y":2.05},{"s":"14/06/2005","x":45,"y":2.35},{"s":"14/06/2005","x":50,"y":2.5},{"s":"14/06/2005","x":55,"y":2.3},{"s":"14/06/2005","x":60,"y":1.6},{"s":"14/06/2005","x":65,"y":1.25},{"s":"14/06/2005","x":70,"y":1.1},{"s":"14/06/2005","x":75,"y":0.9},{"s":"14/06/2005","x":77.7,"y":0.88},{"s":"14/06/2005","x":80,"y":0.88},{"s":"14/06/2005","x":82.6,"y":0.63},{"s":"14/06/2005","x":86.2,"y":0.13},{"s":"14/06/2005","x":90,"y":-0.25},{"s":"14/06/2005","x":99.6,"y":-0.76},{"s":"14/06/2005","x":104.5,"y":-1.32},{"s":"14/06/2005","x":108.2,"y":-1.64},{"s":"14/06/2005","x":113,"y":-1.71},{"s":"14/06/2005","x":118,"y":-1.8},{"s":"14/06/2005","x":123,"y":-1.9},{"s":"14/06/2005","x":132.6,"y":-2.09},{"s":"14/06/2005","x":140,"y":-2.27},{"s":"14/06/2005","x":147,"y":-2.21},{"s":"14/06/2005","x":157,"y":-2.02},{"s":"14/06/2005","x":166.7,"y":-1.96},{"s":"14/06/2005","x":177.7,"y":-1.93},{"s":"14/06/2005","x":182,"y":-1.8},{"s":"14/06/2005","x":190,"y":-1.85},{"s":"14/06/2005","x":196,"y":-2.0},{"s":"14/06/2005","x":200.6,"y":-2.33},{"s":"14/06/2005","x":204,"y":-2.8},{"s":"14/06/2005","x":206.7,"y":-3.09},{"s":"14/06/2005","x":210.4,"y":-3.59},{"s":"14/06/2005","x":216.5,"y":-3.97},{"s":"14/06/2005","x":228.8,"y":-4.22},{"s":"14/06/2005","x":237.4,"y":-4.41},{"s":"14/06/2005","x":246,"y":-4.41},{"s":"14/06/2005","x":255.7,"y":-4.22},{"s":"14/06/2005","x":265.5,"y":-4.03},{"s":"14/06/2005","x":275.3,"y":-4.22},{"s":"14/06/2005","x":282.6,"y":-4.35},{"s":"14/06/2005","x":290,"y":-4.35},{"s":"14/06/2005","x":300,"y":-4.1},{"s":"14/06/2005","x":310.7,"y":-3.78},{"s":"14/06/2005","x":322.9,"y":-3.63},{"s":"14/06/2005","x":335,"y":-3.56},{"s":"14/06/2005","x":351,"y":-3.6},{"s":"14/06/2005","x":365.6,"y":-3.69},{"s":"14/06/2005","x":383.9,"y":-3.88},{"s":"14/06/2005","x":400,"y":-4.16},
      {"s":"16/03/2006","x":0,"y":2.2},{"s":"16/03/2006","x":1,"y":2.15},{"s":"16/03/2006","x":2.7,"y":1.83},{"s":"16/03/2006","x":5.7,"y":1.26},{"s":"16/03/2006","x":8,"y":1.45},{"s":"16/03/2006","x":10,"y":1.35},{"s":"16/03/2006","x":13,"y":1.64},{"s":"16/03/2006","x":15.5,"y":2.14},{"s":"16/03/2006","x":20.4,"y":2.11},{"s":"16/03/2006","x":25.2,"y":1.7},{"s":"16/03/2006","x":28.9,"y":2.21},{"s":"16/03/2006","x":33.8,"y":2.37},{"s":"16/03/2006","x":37.4,"y":2.11},{"s":"16/03/2006","x":41.1,"y":2.05},{"s":"16/03/2006","x":45.4,"y":2.43},{"s":"16/03/2006","x":52.1,"y":2.68},{"s":"16/03/2006","x":55.7,"y":2.27},{"s":"16/03/2006","x":58.2,"y":1.83},{"s":"16/03/2006","x":63,"y":1.26},{"s":"16/03/2006","x":68,"y":1.07},{"s":"16/03/2006","x":69.1,"y":1.26},{"s":"16/03/2006","x":71.6,"y":1.14},{"s":"16/03/2006","x":75.2,"y":0.82},{"s":"16/03/2006","x":80,"y":0.38},{"s":"16/03/2006","x":85,"y":-0.13},{"s":"16/03/2006","x":92.3,"y":-0.5},{"s":"16/03/2006","x":99.6,"y":-0.82},{"s":"16/03/2006","x":107,"y":-1.14},{"s":"16/03/2006","x":114.3,"y":-1.51},{"s":"16/03/2006","x":124,"y":-1.77},{"s":"16/03/2006","x":130,"y":-2.2},{"s":"16/03/2006","x":135,"y":-2.46},{"s":"16/03/2006","x":141,"y":-2.46},{"s":"16/03/2006","x":147,"y":-2.34},{"s":"16/03/2006","x":154.5,"y":-2.24},{"s":"16/03/2006","x":159.4,"y":-2.15},{"s":"16/03/2006","x":166.7,"y":-2.12},{"s":"16/03/2006","x":171.6,"y":-2.37},{"s":"16/03/2006","x":176.5,"y":-2.24},{"s":"16/03/2006","x":183.8,"y":-2.21},{"s":"16/03/2006","x":190,"y":-2.02},{"s":"16/03/2006","x":196,"y":-1.8},{"s":"16/03/2006","x":204,"y":-1.83},{"s":"16/03/2006","x":212.9,"y":-2.2},{"s":"16/03/2006","x":219,"y":-2.52},{"s":"16/03/2006","x":225,"y":-2.64},{"s":"16/03/2006","x":231.2,"y":-2.83},{"s":"16/03/2006","x":236,"y":-3.02},{"s":"16/03/2006","x":238.5,"y":-2.96},{"s":"16/03/2006","x":241,"y":-3.28},{"s":"16/03/2006","x":245.9,"y":-3.47},{"s":"16/03/2006","x":250.9,"y":-3.66},{"s":"16/03/2006","x":256,"y":-3.88},{"s":"16/03/2006","x":262,"y":-4.22},{"s":"16/03/2006","x":268,"y":-4.41},{"s":"16/03/2006","x":277.7,"y":-4.57},{"s":"16/03/2006","x":287.5,"y":-4.76},{"s":"16/03/2006","x":292.4,"y":-4.79},{"s":"16/03/2006","x":298.5,"y":-4.97},{"s":"16/03/2006","x":302.2,"y":-4.79},{"s":"16/03/2006","x":307,"y":-4.47},{"s":"16/03/2006","x":309.6,"y":-4.35},{"s":"16/03/2006","x":312,"y":-3.85},{"s":"16/03/2006","x":316.8,"y":-3.28},{"s":"16/03/2006","x":324.1,"y":-3.09},{"s":"16/03/2006","x":331.5,"y":-2.81},{"s":"16/03/2006","x":341.2,"y":-2.84},{"s":"16/03/2006","x":348.5,"y":-2.94},{"s":"16/03/2006","x":352.2,"y":-2.97},{"s":"16/03/2006","x":355.9,"y":-3.19},{"s":"16/03/2006","x":365.6,"y":-3.28},{"s":"16/03/2006","x":377.8,"y":-3.53},{"s":"16/03/2006","x":390,"y":-3.82},{"s":"16/03/2006","x":400,"y":-4.1},
      {"s":"20/10/2008","x":0,"y":1.84},{"s":"20/10/2008","x":2,"y":1.7},{"s":"20/10/2008","x":3.9,"y":1.48},{"s":"20/10/2008","x":6.3,"y":1.36},{"s":"20/10/2008","x":8.2,"y":1.63},{"s":"20/10/2008","x":10,"y":1.39},{"s":"20/10/2008","x":13,"y":1.77},{"s":"20/10/2008","x":16.7,"y":1.83},{"s":"20/10/2008","x":19.1,"y":2.05},{"s":"20/10/2008","x":21.6,"y":2.18},{"s":"20/10/2008","x":23.4,"y":2.08},{"s":"20/10/2008","x":25.9,"y":1.61},{"s":"20/10/2008","x":28.9,"y":1.64},{"s":"20/10/2008","x":31.3,"y":1.61},{"s":"20/10/2008","x":35,"y":2.05},{"s":"20/10/2008","x":38,"y":2.3},{"s":"20/10/2008","x":41.1,"y":2.02},{"s":"20/10/2008","x":45.4,"y":2.4},{"s":"20/10/2008","x":50.9,"y":2.56},{"s":"20/10/2008","x":53.3,"y":2.33},{"s":"20/10/2008","x":55.7,"y":2.4},{"s":"20/10/2008","x":58.2,"y":1.96},{"s":"20/10/2008","x":61.8,"y":1.45},{"s":"20/10/2008","x":65.5,"y":1.2},{"s":"20/10/2008","x":70.4,"y":1.07},{"s":"20/10/2008","x":75.2,"y":0.76},{"s":"20/10/2008","x":80.1,"y":0.25},{"s":"20/10/2008","x":85,"y":-0.25},{"s":"20/10/2008","x":89.9,"y":-0.35},{"s":"20/10/2008","x":93.5,"y":-0.32},{"s":"20/10/2008","x":98.4,"y":-0.5},{"s":"20/10/2008","x":103.3,"y":-0.76},{"s":"20/10/2008","x":108.2,"y":-1.01},{"s":"20/10/2008","x":110.6,"y":-1.32},{"s":"20/10/2008","x":114.3,"y":-1.58},{"s":"20/10/2008","x":119.1,"y":-1.77},{"s":"20/10/2008","x":124,"y":-2.02},{"s":"20/10/2008","x":130,"y":-2.25},{"s":"20/10/2008","x":135,"y":-2.4},{"s":"20/10/2008","x":141,"y":-2.5},{"s":"20/10/2008","x":150.9,"y":-2.4},{"s":"20/10/2008","x":154,"y":-2.2},{"s":"20/10/2008","x":157,"y":-1.96},{"s":"20/10/2008","x":161.8,"y":-1.58},{"s":"20/10/2008","x":169.1,"y":-1.58},{"s":"20/10/2008","x":175.2,"y":-1.74},{"s":"20/10/2008","x":181.3,"y":-1.93},{"s":"20/10/2008","x":186.2,"y":-1.99},{"s":"20/10/2008","x":192.3,"y":-2.15},{"s":"20/10/2008","x":199.6,"y":-2.46},{"s":"20/10/2008","x":208.2,"y":-2.84},{"s":"20/10/2008","x":212.9,"y":-3.15},{"s":"20/10/2008","x":225,"y":-3.66},{"s":"20/10/2008","x":234.9,"y":-3.97},{"s":"20/10/2008","x":243.5,"y":-4.16},{"s":"20/10/2008","x":249.6,"y":-4.35},{"s":"20/10/2008","x":258.1,"y":-4.6},{"s":"20/10/2008","x":267.9,"y":-4.89},{"s":"20/10/2008","x":275.3,"y":-4.79},{"s":"20/10/2008","x":280.2,"y":-4.48},{"s":"20/10/2008","x":287.5,"y":-4.03},{"s":"20/10/2008","x":299.8,"y":-3.62},{"s":"20/10/2008","x":310.7,"y":-3.44},{"s":"20/10/2008","x":316.8,"y":-3.31},{"s":"20/10/2008","x":324.1,"y":-3.25},{"s":"20/10/2008","x":336.3,"y":-3.19},{"s":"20/10/2008","x":351,"y":-3.28},{"s":"20/10/2008","x":359.5,"y":-3.44},{"s":"20/10/2008","x":371.7,"y":-3.66},{"s":"20/10/2008","x":383.9,"y":-3.85},{"s":"20/10/2008","x":400,"y":-4.13},
      {"s":"13/05/2009","x":0,"y":1.83},{"s":"13/05/2009","x":2,"y":1.65},{"s":"13/05/2009","x":4.5,"y":1.42},{"s":"13/05/2009","x":7,"y":1.35},{"s":"13/05/2009","x":8.8,"y":1.55},{"s":"13/05/2009","x":10.6,"y":1.27},{"s":"13/05/2009","x":12.5,"y":1.4},{"s":"13/05/2009","x":14.3,"y":1.64},{"s":"13/05/2009","x":16.7,"y":1.74},{"s":"13/05/2009","x":19.8,"y":1.99},{"s":"13/05/2009","x":21.6,"y":1.99},{"s":"13/05/2009","x":25.2,"y":1.4},{"s":"13/05/2009","x":28.9,"y":1.42},{"s":"13/05/2009","x":31.3,"y":1.48},{"s":"13/05/2009","x":35,"y":1.77},{"s":"13/05/2009","x":38.7,"y":2.05},{"s":"13/05/2009","x":41.7,"y":1.83},{"s":"13/05/2009","x":46,"y":2.3},{"s":"13/05/2009","x":49.6,"y":2.4},{"s":"13/05/2009","x":52.1,"y":2.21},{"s":"13/05/2009","x":55.7,"y":2.21},{"s":"13/05/2009","x":58.2,"y":1.7},{"s":"13/05/2009","x":61.8,"y":1.26},{"s":"13/05/2009","x":65.5,"y":1.07},{"s":"13/05/2009","x":68,"y":0.76},{"s":"13/05/2009","x":71.6,"y":0.6},{"s":"13/05/2009","x":75.2,"y":0.38},{"s":"13/05/2009","x":78.9,"y":-0.25},{"s":"13/05/2009","x":80.1,"y":-0.5},{"s":"13/05/2009","x":83.8,"y":-0.57},{"s":"13/05/2009","x":89.9,"y":-0.66},{"s":"13/05/2009","x":94.8,"y":-0.82},{"s":"13/05/2009","x":99.6,"y":-1.01},{"s":"13/05/2009","x":103.3,"y":-1.31},{"s":"13/05/2009","x":109.4,"y":-1.45},{"s":"13/05/2009","x":115.5,"y":-1.64},{"s":"13/05/2009","x":120,"y":-1.75},{"s":"13/05/2009","x":126.5,"y":-1.96},{"s":"13/05/2009","x":132.6,"y":-2.21},{"s":"13/05/2009","x":147.2,"y":-2.24},{"s":"13/05/2009","x":159.4,"y":-2.31},{"s":"13/05/2009","x":168,"y":-2.24},{"s":"13/05/2009","x":175.2,"y":-2.09},{"s":"13/05/2009","x":180.1,"y":-1.96},{"s":"13/05/2009","x":185,"y":-2.02},{"s":"13/05/2009","x":190,"y":-2.05},{"s":"13/05/2009","x":196,"y":-2.27},{"s":"13/05/2009","x":200,"y":-2.39},{"s":"13/05/2009","x":203.3,"y":-2.59},{"s":"13/05/2009","x":208.2,"y":-2.87},{"s":"13/05/2009","x":212.9,"y":-3.02},{"s":"13/05/2009","x":219,"y":-3.4},{"s":"13/05/2009","x":228.8,"y":-3.91},{"s":"13/05/2009","x":237.3,"y":-4.22},{"s":"13/05/2009","x":248.4,"y":-4.54},{"s":"13/05/2009","x":258.1,"y":-4.7},{"s":"13/05/2009","x":267.9,"y":-4.86},{"s":"13/05/2009","x":277.7,"y":-4.95},{"s":"13/05/2009","x":285.1,"y":-4.73},{"s":"13/05/2009","x":292.4,"y":-4.41},{"s":"13/05/2009","x":299.8,"y":-4.1},{"s":"13/05/2009","x":304.7,"y":-3.94},{"s":"13/05/2009","x":314.4,"y":-3.66},{"s":"13/05/2009","x":321.7,"y":-3.53},{"s":"13/05/2009","x":329,"y":-3.56},{"s":"13/05/2009","x":335,"y":-3.53},{"s":"13/05/2009","x":343.7,"y":-3.5},{"s":"13/05/2009","x":351,"y":-3.56},{"s":"13/05/2009","x":359.5,"y":-3.66},{"s":"13/05/2009","x":368,"y":-3.85},{"s":"13/05/2009","x":377.8,"y":-3.97},{"s":"13/05/2009","x":385.1,"y":-4.22},{"s":"13/05/2009","x":392.4,"y":-4.47},{"s":"13/05/2009","x":400,"y":-4.57},
      {"s":"23/09/2010","x":0,"y":1.83},{"s":"23/09/2010","x":2,"y":1.67},{"s":"23/09/2010","x":4,"y":1.45},{"s":"23/09/2010","x":5.7,"y":1.29},{"s":"23/09/2010","x":8.2,"y":1.29},{"s":"23/09/2010","x":10.6,"y":1.32},{"s":"23/09/2010","x":13,"y":1.7},{"s":"23/09/2010","x":14.3,"y":1.83},{"s":"23/09/2010","x":16.7,"y":1.77},{"s":"23/09/2010","x":19.8,"y":2.05},{"s":"23/09/2010","x":21.6,"y":2.02},{"s":"23/09/2010","x":25.2,"y":1.45},{"s":"23/09/2010","x":27.7,"y":1.45},{"s":"23/09/2010","x":31.3,"y":1.55},{"s":"23/09/2010","x":35,"y":1.89},{"s":"23/09/2010","x":38.7,"y":1.99},{"s":"23/09/2010","x":41.1,"y":1.92},{"s":"23/09/2010","x":45.4,"y":2.37},{"s":"23/09/2010","x":49.6,"y":2.46},{"s":"23/09/2010","x":50.9,"y":2.4},{"s":"23/09/2010","x":54.5,"y":2.15},{"s":"23/09/2010","x":58.2,"y":1.7},{"s":"23/09/2010","x":63,"y":1.26},{"s":"23/09/2010","x":68,"y":0.88},{"s":"23/09/2010","x":71.6,"y":0.91},{"s":"23/09/2010","x":74,"y":0.88},{"s":"23/09/2010","x":77.7,"y":0.44},{"s":"23/09/2010","x":81.3,"y":0},{"s":"23/09/2010","x":87.4,"y":-0.32},{"s":"23/09/2010","x":94.8,"y":-0.63},{"s":"23/09/2010","x":102,"y":-1.01},{"s":"23/09/2010","x":109.4,"y":-1.26},{"s":"23/09/2010","x":114.3,"y":-1.52},{"s":"23/09/2010","x":118,"y":-1.55},{"s":"23/09/2010","x":122.8,"y":-1.64},{"s":"23/09/2010","x":130,"y":-1.71},{"s":"23/09/2010","x":141,"y":-1.8},{"s":"23/09/2010","x":153.3,"y":-1.86},{"s":"23/09/2010","x":165.5,"y":-1.8},{"s":"23/09/2010","x":177.7,"y":-1.68},{"s":"23/09/2010","x":183.8,"y":-1.68},{"s":"23/09/2010","x":194.5,"y":-1.76},{"s":"23/09/2010","x":200,"y":-1.9},{"s":"23/09/2010","x":206.7,"y":-2.08},{"s":"23/09/2010","x":212,"y":-2.4},{"s":"23/09/2010","x":219,"y":-2.77},{"s":"23/09/2010","x":225,"y":-3.15},{"s":"23/09/2010","x":231.2,"y":-3.53},{"s":"23/09/2010","x":241,"y":-4.1},{"s":"23/09/2010","x":249.6,"y":-4.54},{"s":"23/09/2010","x":258.1,"y":-4.73},{"s":"23/09/2010","x":267.9,"y":-4.79},{"s":"23/09/2010","x":275.3,"y":-4.67},{"s":"23/09/2010","x":283.8,"y":-4.35},{"s":"23/09/2010","x":292.4,"y":-4.03},{"s":"23/09/2010","x":299.8,"y":-3.9},{"s":"23/09/2010","x":310.7,"y":-3.72},{"s":"23/09/2010","x":322.9,"y":-3.63},{"s":"23/09/2010","x":335,"y":-3.53},{"s":"23/09/2010","x":351,"y":-3.56},{"s":"23/09/2010","x":365.6,"y":-3.69},{"s":"23/09/2010","x":377.8,"y":-3.85},{"s":"23/09/2010","x":390,"y":-4.03},{"s":"23/09/2010","x":400,"y":-4.22},
      {"s":"01/10/2012","g":1,"x":0,"y":1.8},{"s":"01/10/2012","g":1,"x":2,"y":1.65},{"s":"01/10/2012","g":1,"x":4,"y":1.45},{"s":"01/10/2012","g":1,"x":6,"y":1.3},{"s":"01/10/2012","g":1,"x":8,"y":1.35},{"s":"01/10/2012","g":1,"x":10,"y":1.3},{"s":"01/10/2012","g":1,"x":13,"y":1.7},{"s":"01/10/2012","g":1,"x":15,"y":1.8},{"s":"01/10/2012","g":1,"x":17,"y":1.75},{"s":"01/10/2012","g":1,"x":20,"y":2.0},{"s":"01/10/2012","g":1,"x":22,"y":2.0},{"s":"01/10/2012","g":1,"x":25,"y":1.5},{"s":"01/10/2012","g":1,"x":28,"y":1.45},{"s":"01/10/2012","g":1,"x":31,"y":1.55},{"s":"01/10/2012","g":1,"x":35,"y":1.85},{"s":"01/10/2012","g":1,"x":39,"y":1.95},{"s":"01/10/2012","g":1,"x":41,"y":1.9},{"s":"01/10/2012","g":1,"x":46,"y":2.21},{"s":"01/10/2012","g":1,"x":49.6,"y":2.33},{"s":"01/10/2012","g":1,"x":53,"y":2.2},{"s":"01/10/2012","g":1,"x":58.2,"y":1.64},{"s":"01/10/2012","g":1,"x":63,"y":1.2},{"s":"01/10/2012","g":1,"x":65.5,"y":0.88},{"s":"01/10/2012","g":1,"x":70.4,"y":0.63},{"s":"01/10/2012","g":1,"x":74,"y":0.57},{"s":"01/10/2012","g":1,"x":77.7,"y":0.25},{"s":"01/10/2012","g":1,"x":82.6,"y":-0.13},{"s":"01/10/2012","g":1,"x":87.4,"y":-0.32},{"s":"01/10/2012","g":1,"x":92,"y":-0.5},
      {"s":"01/10/2012","g":2,"x":121.6,"y":-1.33},{"s":"01/10/2012","g":2,"x":128.9,"y":-1.71},{"s":"01/10/2012","g":2,"x":137.4,"y":-2.02},{"s":"01/10/2012","g":2,"x":144.8,"y":-2.27},{"s":"01/10/2012","g":2,"x":150.9,"y":-2.53},{"s":"01/10/2012","g":2,"x":159.4,"y":-2.78},{"s":"01/10/2012","g":2,"x":169.1,"y":-3.03},{"s":"01/10/2012","g":2,"x":178.9,"y":-3.03},{"s":"01/10/2012","g":2,"x":183.8,"y":-2.78},{"s":"01/10/2012","g":2,"x":190,"y":-2.21},{"s":"01/10/2012","g":2,"x":194.8,"y":-1.86},{"s":"01/10/2012","g":2,"x":198.4,"y":-1.86},{"s":"01/10/2012","g":2,"x":200.6,"y":-1.82},{"s":"01/10/2012","g":2,"x":206.7,"y":-2.0},{"s":"01/10/2012","g":2,"x":212.9,"y":-2.33},{"s":"01/10/2012","g":2,"x":219,"y":-2.55},{"s":"01/10/2012","g":2,"x":225,"y":-2.83},{"s":"01/10/2012","g":2,"x":231.2,"y":-3.15},{"s":"01/10/2012","g":2,"x":237.3,"y":-3.47},{"s":"01/10/2012","g":2,"x":243.5,"y":-3.78},{"s":"01/10/2012","g":2,"x":249.6,"y":-4.1},{"s":"01/10/2012","g":2,"x":255.7,"y":-4.73},{"s":"01/10/2012","g":2,"x":260.6,"y":-5.11},{"s":"01/10/2012","g":2,"x":265.5,"y":-5.33},{"s":"01/10/2012","g":2,"x":270.4,"y":-5.23},{"s":"01/10/2012","g":2,"x":275.3,"y":-4.86},{"s":"01/10/2012","g":2,"x":280.2,"y":-4.48},{"s":"01/10/2012","g":2,"x":287.5,"y":-4.16},{"s":"01/10/2012","g":2,"x":294.9,"y":-3.97},{"s":"01/10/2012","g":2,"x":300,"y":-3.94},{"s":"01/10/2012","g":2,"x":307,"y":-3.82},{"s":"01/10/2012","g":2,"x":312,"y":-3.69},{"s":"01/10/2012","g":2,"x":316.8,"y":-3.75},{"s":"01/10/2012","g":2,"x":324.1,"y":-3.6},{"s":"01/10/2012","g":2,"x":326.6,"y":-3.5},{"s":"01/10/2012","g":2,"x":331.5,"y":-3.67},{"s":"01/10/2012","g":2,"x":338.8,"y":-3.56},{"s":"01/10/2012","g":2,"x":343.7,"y":-3.66},{"s":"01/10/2012","g":2,"x":353.4,"y":-3.72},{"s":"01/10/2012","g":2,"x":357,"y":-3.6},{"s":"01/10/2012","g":2,"x":362,"y":-3.82},{"s":"01/10/2012","g":2,"x":368,"y":-3.69},{"s":"01/10/2012","g":2,"x":377.8,"y":-3.88},{"s":"01/10/2012","g":2,"x":387.6,"y":-4.03},{"s":"01/10/2012","g":2,"x":400,"y":-4.0},
      {"s":"03/10/2013","x":50.2,"y":2.43},{"s":"03/10/2013","x":54.5,"y":2.27},{"s":"03/10/2013","x":56,"y":2.2},{"s":"03/10/2013","x":57.6,"y":1.7},{"s":"03/10/2013","x":59.4,"y":1.26},{"s":"03/10/2013","x":61.8,"y":0.95},{"s":"03/10/2013","x":63,"y":0.91},{"s":"03/10/2013","x":68,"y":0.91},{"s":"03/10/2013","x":70.4,"y":0.76},{"s":"03/10/2013","x":72.8,"y":0.44},{"s":"03/10/2013","x":75.2,"y":0.06},{"s":"03/10/2013","x":77.7,"y":0.01},{"s":"03/10/2013","x":80.1,"y":-0.06},{"s":"03/10/2013","x":85,"y":-0.32},{"s":"03/10/2013","x":89.9,"y":-0.5},{"s":"03/10/2013","x":94.8,"y":-0.76},{"s":"03/10/2013","x":99.6,"y":-0.95},{"s":"03/10/2013","x":104.5,"y":-1.14},{"s":"03/10/2013","x":109.4,"y":-1.26},{"s":"03/10/2013","x":114.3,"y":-1.45},{"s":"03/10/2013","x":119.1,"y":-1.7},{"s":"03/10/2013","x":124,"y":-1.95},{"s":"03/10/2013","x":130,"y":-2.15},{"s":"03/10/2013","x":137.4,"y":-2.4},{"s":"03/10/2013","x":143.5,"y":-2.5},{"s":"03/10/2013","x":148.4,"y":-2.46},{"s":"03/10/2013","x":153.3,"y":-2.21},{"s":"03/10/2013","x":158.2,"y":-1.71},{"s":"03/10/2013","x":163,"y":-1.39},{"s":"03/10/2013","x":169.1,"y":-1.28},{"s":"03/10/2013","x":174,"y":-1.3},{"s":"03/10/2013","x":181.3,"y":-1.45},{"s":"03/10/2013","x":188.7,"y":-1.68},{"s":"03/10/2013","x":194.5,"y":-1.85},{"s":"03/10/2013","x":200,"y":-2.1},{"s":"03/10/2013","x":206.7,"y":-2.38},{"s":"03/10/2013","x":212,"y":-2.65},{"s":"03/10/2013","x":219,"y":-2.9},{"s":"03/10/2013","x":225,"y":-3.2},{"s":"03/10/2013","x":231.2,"y":-3.47},{"s":"03/10/2013","x":241,"y":-3.88},{"s":"03/10/2013","x":250,"y":-4.08},{"s":"03/10/2013","x":255.7,"y":-4.41},{"s":"03/10/2013","x":260.6,"y":-4.57},{"s":"03/10/2013","x":267.9,"y":-4.7},{"s":"03/10/2013","x":277.7,"y":-4.78},{"s":"03/10/2013","x":286.3,"y":-4.64},{"s":"03/10/2013","x":294.9,"y":-4.48},{"s":"03/10/2013","x":300,"y":-4.4},{"s":"03/10/2013","x":304.7,"y":-4.29},{"s":"03/10/2013","x":310.7,"y":-4.19},{"s":"03/10/2013","x":314.4,"y":-4.1},{"s":"03/10/2013","x":322.9,"y":-3.97},{"s":"03/10/2013","x":335,"y":-3.85},{"s":"03/10/2013","x":344.9,"y":-3.82},{"s":"03/10/2013","x":353.4,"y":-3.88},{"s":"03/10/2013","x":365.6,"y":-3.94},{"s":"03/10/2013","x":377.8,"y":-4.0},{"s":"03/10/2013","x":390,"y":-4.07},{"s":"03/10/2013","x":400,"y":-4.16}
    ]
  },
  "vconcat": [
    {
      "width": 1093,
      "height": 102,
      "data": {"name": "diff"},
      "encoding": {
        "x": {"field": "x", "type": "quantitative", "scale": {"domain": [0, 400], "nice": false, "zero": false},
              "axis": {"values": [0, 50, 100, 150, 200, 250, 300, 350, 400], "labels": false, "ticks": false, "domain": false, "title": null, "grid": true, "gridDash": [3, 1], "gridColor": "#444"}},
        "y": {"field": "y", "type": "quantitative", "scale": {"domain": [-3, 3], "nice": false},
              "axis": {"values": [-3, -2, -1, 0, 1, 2, 3], "title": "Différentiel (m)", "titleFontSize": 13.5, "titlePadding": 6, "labelFontSize": 14, "tickSize": 4, "labelPadding": 5, "grid": true, "gridDash": [1, 1]}},
        "color": {"field": "s", "type": "nominal",
                  "scale": {"domain": ["18/03/2003-16/10/2002", "01/06/2004-18/03/2003", "14/06/2005-01/06/2004", "16/03/2006-14/06/2005", "20/10/2008-16/03/2006", "13/05/2009-20/10/2008", "23/09/2010-13/05/2009", "01/10/2012-23/09/2010", "03/10/2013-01/10/2012"],
                            "range": ["#ecec3a", "#62e6ee", "#5fd85f", "#e05858", "#1a1ad8", "#4aa8c4", "#4a78ac", "#f0954a", "#000000"]},
                  "legend": {"title": null, "orient": "none", "legendX": 13.5, "legendY": -65.75, "direction": "horizontal", "columns": 5, "symbolType": "M-6.57,0H6.57", "symbolSize": 49, "symbolStrokeWidth": 2.2, "symbolOffset": 17.25, "labelFontSize": 11.5, "labelOffset": 23.25, "columnPadding": 40, "rowPadding": 10.5, "padding": 8, "gridAlign": "all", "labelLimit": 300, "strokeColor": "#777", "fillColor": "white"}},
        "detail": {"field": "g"}
      },
      "layer": [
        {"transform": [{"filter": {"field": "s", "oneOf": ["18/03/2003-16/10/2002", "01/06/2004-18/03/2003", "14/06/2005-01/06/2004", "16/03/2006-14/06/2005"]}}], "mark": {"type": "line", "strokeWidth": 1, "strokeJoin": "round"}},
        {"transform": [{"filter": {"field": "s", "oneOf": ["20/10/2008-16/03/2006"]}}], "mark": {"type": "line", "strokeWidth": 2.5, "strokeJoin": "round"}},
        {"transform": [{"filter": {"field": "s", "oneOf": ["13/05/2009-20/10/2008", "23/09/2010-13/05/2009"]}}], "mark": {"type": "line", "strokeWidth": 3.5, "strokeJoin": "round"}},
        {"transform": [{"filter": {"field": "s", "oneOf": ["01/10/2012-23/09/2010"]}}], "mark": {"type": "line", "strokeWidth": 2.5, "strokeJoin": "round"}},
        {"transform": [{"filter": {"field": "s", "oneOf": ["03/10/2013-01/10/2012"]}}], "mark": {"type": "line", "strokeWidth": 3.5, "strokeJoin": "round"}}
      ]
    },
    {
      "width": 1093,
      "height": 475,
      "data": {"name": "prof"},
      "title": {"text": "B", "orient": "bottom", "anchor": "start", "frame": "group", "offset": -28, "fontSize": 21, "fontWeight": "bold", "color": "#111"},
      "encoding": {
        "x": {"field": "x", "type": "quantitative", "scale": {"domain": [0, 400], "nice": false, "zero": false},
              "axis": {"values": [0, 50, 100, 150, 200, 250, 300, 350, 400], "title": "Distance cross-shore (m)", "titleFontSize": 25, "titlePadding": 8, "labelFontSize": 15, "tickSize": 5, "labelPadding": 5, "grid": true, "gridDash": [3, 1], "gridColor": "#444"}},
        "y": {"field": "y", "type": "quantitative", "scale": {"domain": [-6, 3], "nice": false},
              "axis": {"values": [-6, -5, -4, -3, -2, -1, 0, 1, 2, 3], "title": "Altitude (m NGF/IGN78)", "titleFontSize": 17, "titlePadding": 4, "labelFontSize": 14, "tickSize": 4, "labelPadding": 9, "grid": true, "gridDash": [1, 1]}},
        "color": {"field": "s", "type": "nominal",
                  "scale": {"domain": ["16/10/2002", "18/03/2003", "01/06/2004", "14/06/2005", "16/03/2006", "20/10/2008", "13/05/2009", "23/09/2010", "01/10/2012", "03/10/2013"],
                            "range": ["#a3a3a3", "#ecec3a", "#62e6ee", "#8a4848", "#62d862", "#ee1a1a", "#1a1ad8", "#48a2b6", "#f0954a", "#000000"]},
                  "legend": {"title": null, "orient": "none", "legendX": 944, "legendY": 3.6, "direction": "vertical", "symbolType": "M-6.86,0H6.86", "symbolSize": 49, "symbolStrokeWidth": 2.2, "symbolOffset": 18, "labelFontSize": 12, "labelOffset": 20, "rowPadding": 15.9, "padding": 8, "labelLimit": 200, "strokeColor": "#777", "fillColor": "white"}},
        "detail": {"field": "g"}
      },
      "layer": [
        {"transform": [{"filter": {"field": "s", "oneOf": ["16/10/2002", "18/03/2003"]}}], "mark": {"type": "line", "strokeWidth": 1, "strokeJoin": "round"}},
        {"transform": [{"filter": {"field": "s", "oneOf": ["01/06/2004"]}}], "mark": {"type": "line", "strokeWidth": 1.4, "strokeJoin": "round"}},
        {"transform": [{"filter": {"field": "s", "oneOf": ["14/06/2005", "16/03/2006"]}}], "mark": {"type": "line", "strokeWidth": 1, "strokeJoin": "round"}},
        {"transform": [{"filter": {"field": "s", "oneOf": ["20/10/2008", "13/05/2009"]}}], "mark": {"type": "line", "strokeWidth": 2.5, "strokeJoin": "round"}},
        {"transform": [{"filter": {"field": "s", "oneOf": ["23/09/2010"]}}], "mark": {"type": "line", "strokeWidth": 4, "strokeJoin": "round"}},
        {"transform": [{"filter": {"field": "s", "oneOf": ["01/10/2012"]}}], "mark": {"type": "line", "strokeWidth": 2.5, "strokeJoin": "round"}},
        {"transform": [{"filter": {"field": "s", "oneOf": ["03/10/2013"]}}], "mark": {"type": "line", "strokeWidth": 3, "strokeJoin": "round"}}
      ]
    }
  ],
  "spacing": 29,
  "bounds": "flush",
  "resolve": {"scale": {"color": "independent"}, "legend": {"color": "independent"}}
}
